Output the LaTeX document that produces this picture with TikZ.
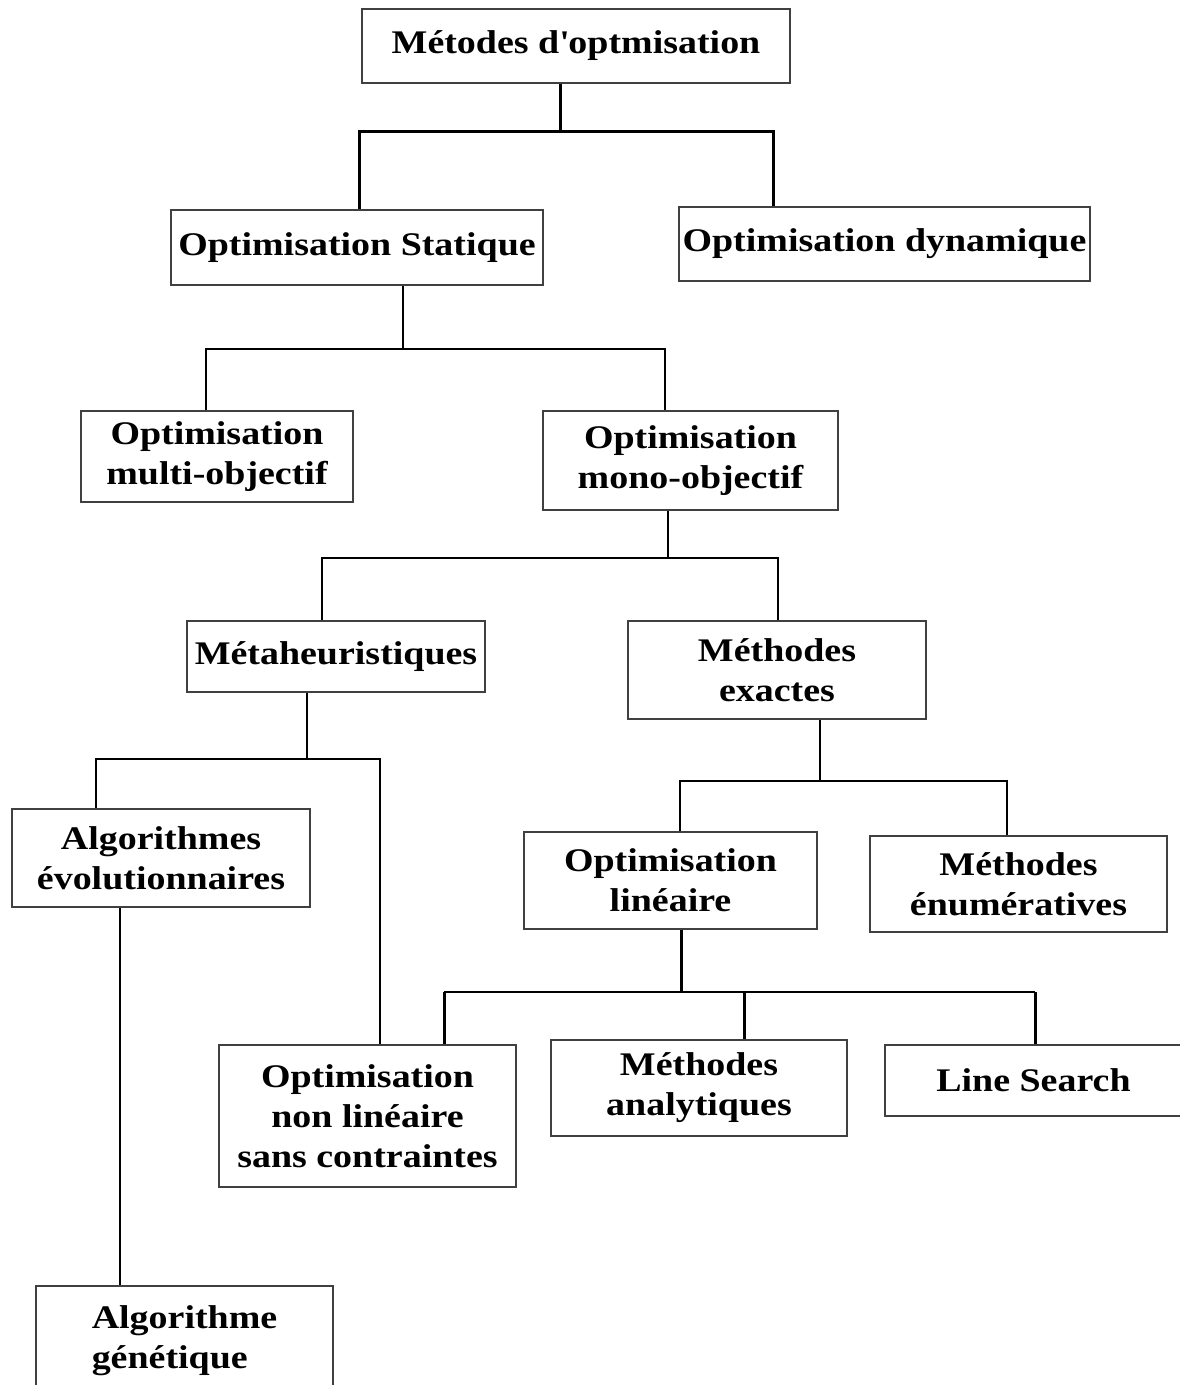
\documentclass[tikz,border=0pt]{standalone}
\usepackage{fontspec}
\setmainfont{Liberation Serif}[FakeStretch=1.15]
\begin{document}
\begin{tikzpicture}[x=1pt,y=-1pt,
  box/.style={draw=black!75, line width=1.8pt, align=center, inner sep=0pt,
              font=\fontsize{33}{40}\selectfont\bfseries},
  thn/.style={line width=1.6pt},
  thk/.style={line width=3pt}]
\useasboundingbox (0,0) rectangle (1179,1385);

% boxes
\node[box, minimum width=428, minimum height=74] (m) at (576,46) {Métodes d\textquotesingle optmisation};
\node[box, minimum width=372, minimum height=75] (stat) at (357,247.5) {Optimisation Statique};
\node[box, minimum width=411, minimum height=74] (dyn) at (884.5,244) {Optimisation dynamique};
\node[box, minimum width=272, minimum height=91] (multi) at (217,456.5) {Optimisation\\multi-objectif};
\node[box, minimum width=295, minimum height=99] (mono) at (690.5,460.5) {Optimisation\\mono-objectif};
\node[box, minimum width=298, minimum height=71] (meta) at (336,656.5) {Métaheuristiques};
\node[box, minimum width=298, minimum height=98] (exact) at (777,670) {Méthodes\\exactes};
\node[box, minimum width=298, minimum height=98] (algo) at (161,858) {Algorithmes\\évolutionnaires};
\node[box, minimum width=293, minimum height=97] (lin) at (670.5,880.5) {Optimisation\\linéaire};
\node[box, minimum width=297, minimum height=96] (enum) at (1018.5,884) {Méthodes\\énumératives};
\node[box, minimum width=297, minimum height=142] (nonlin) at (367.5,1116) {Optimisation\\non linéaire\\sans contraintes};
\node[box, minimum width=296, minimum height=96] (anal) at (699,1088) {Méthodes\\analytiques};
\node[box, minimum width=297, minimum height=71] (ls) at (1033.5,1080.5) {Line Search};
\node[box, minimum width=297, minimum height=110, align=left] (gen) at (184.5,1341) {Algorithme\\génétique};

% tree 1
\coordinate (j1) at (560,131);
\coordinate (j1l) at (359,131);
\coordinate (j1r) at (773,131);
\draw[thk] (m.south -| j1) -- (j1);
\draw[thk] (stat.north -| j1l) -- (j1l) -- (j1r) -- (dyn.north -| j1r);

% tree 2
\coordinate (j2) at (403,349);
\coordinate (j2l) at (206,349);
\coordinate (j2r) at (665,349);
\draw[thn] (stat.south -| j2) -- (j2);
\draw[thn] (multi.north -| j2l) -- (j2l) -- (j2r) -- (mono.north -| j2r);

% tree 3
\coordinate (j3) at (668,558);
\coordinate (j3l) at (322,558);
\coordinate (j3r) at (778,558);
\draw[thn] (mono.south -| j3) -- (j3);
\draw[thn] (meta.north -| j3l) -- (j3l) -- (j3r) -- (exact.north -| j3r);

% tree 4
\coordinate (j4) at (307,759);
\coordinate (j4l) at (96,759);
\coordinate (j4r) at (380,759);
\draw[thn] (meta.south -| j4) -- (j4);
\draw[thn] (algo.north -| j4l) -- (j4l) -- (j4r) -- (nonlin.north -| j4r);

% tree 5
\coordinate (j5) at (120,907);
\draw[thn] (algo.south -| j5) -- (gen.north -| j5);

% tree 6
\coordinate (j6) at (820,781);
\coordinate (j6l) at (680,781);
\coordinate (j6r) at (1007,781);
\draw[thn] (exact.south -| j6) -- (j6);
\draw[thn] (lin.north -| j6l) -- (j6l) -- (j6r) -- (enum.north -| j6r);

% tree 7
\coordinate (j7) at (681,992);
\coordinate (j7l) at (444,992);
\coordinate (j7m) at (744,992);
\coordinate (j7r) at (1035,992);
\draw[thk] (lin.south -| j7) -- (j7);
\draw[line width=2.2pt] (j7l) -- (j7r);
\draw[thk] (j7l) -- (nonlin.north -| j7l);
\draw[thk] (j7m) -- (anal.north -| j7m);
\draw[thk] (j7r) -- (ls.north -| j7r);
\end{tikzpicture}
\end{document}
